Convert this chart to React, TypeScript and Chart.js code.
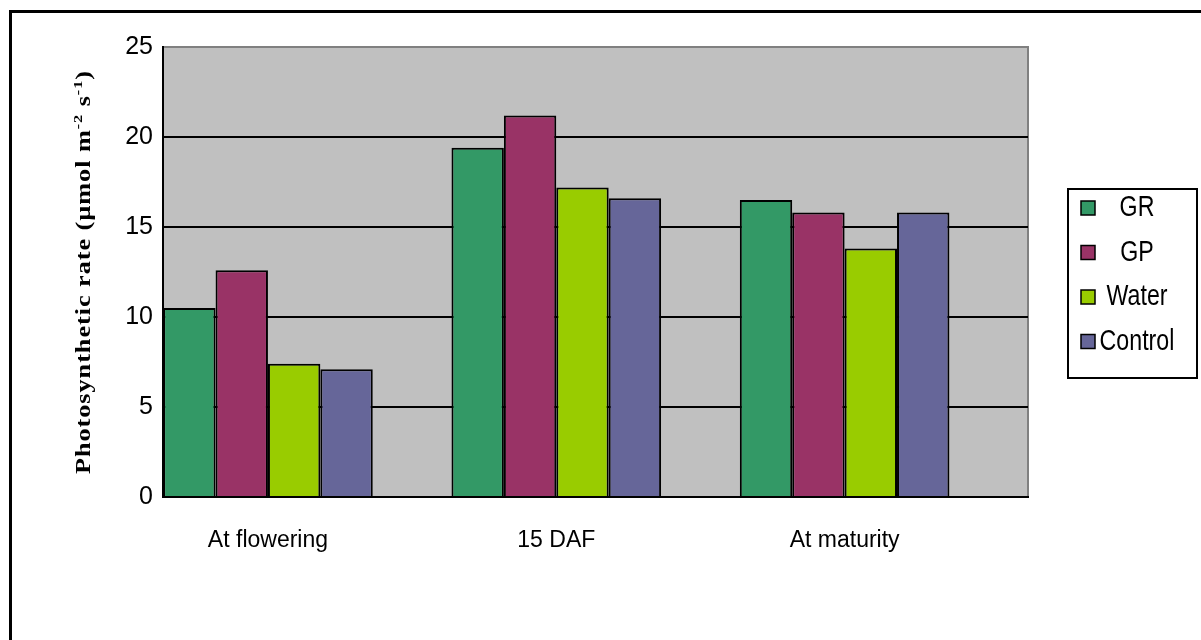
import React, { useEffect, useRef } from 'react';
import { Chart, registerables } from 'chart.js';

Chart.register(...registerables);

const categories = ['At flowering', '15 DAF', 'At maturity'];
const seriesNames = ['GR', 'GP', 'Water', 'Control'];
const grValues = [10.5, 19.4, 16.5];
const gpValues = [12.6, 21.2, 15.8];
const waterValues = [7.4, 17.2, 13.8];
const controlValues = [7.1, 16.6, 15.8];
const yTicks = [0, 5, 10, 15, 20, 25];
const seriesColors = ['#339966', '#993366', '#99CC00', '#666699'];

const SANS = '"Liberation Sans", Arial, sans-serif';
const SERIF = '"Liberation Serif", "Times New Roman", serif';

const framePlugin = {
  id: 'frameAndBg',
  beforeDraw(chart: any) {
    const { ctx, chartArea } = chart;
    ctx.save();
    ctx.fillStyle = '#ffffff';
    ctx.fillRect(0, 0, chart.width, chart.height);
    ctx.strokeStyle = '#000';
    ctx.lineWidth = 3;
    ctx.beginPath();
    ctx.moveTo(10.5, chart.height + 5);
    ctx.lineTo(10.5, 11.5);
    ctx.lineTo(chart.width + 5, 11.5);
    ctx.stroke();
    ctx.fillStyle = '#C0C0C0';
    ctx.fillRect(chartArea.left, chartArea.top, chartArea.right - chartArea.left, chartArea.bottom - chartArea.top);
    ctx.strokeStyle = '#808080';
    ctx.lineWidth = 2;
    ctx.beginPath();
    ctx.moveTo(chartArea.left, chartArea.top);
    ctx.lineTo(chartArea.right, chartArea.top);
    ctx.lineTo(chartArea.right, chartArea.bottom);
    ctx.stroke();
    ctx.restore();
  },
};

const yTitlePlugin = {
  id: 'yTitle',
  afterDraw(chart: any) {
    const { ctx, chartArea } = chart;
    const parts: { t: string; sup: boolean }[] = [
      { t: 'Photosynthetic rate (\u00B5mol m', sup: false },
      { t: '-2', sup: true },
      { t: ' s', sup: false },
      { t: '-1', sup: true },
      { t: ')', sup: false },
    ];
    const mainFont = `bold 21px ${SERIF}`;
    const supFont = `bold 13px ${SERIF}`;
    const stretch = 1.25;
    ctx.save();
    let w = 0;
    let n = 0;
    parts.forEach((p) => {
      ctx.font = p.sup ? supFont : mainFont;
      w += ctx.measureText(p.t).width * stretch;
      n += p.t.length;
    });
    const target = 404;
    const spacing = Math.max(0, (target - w) / n);
    const total = w + spacing * n;
    const cy = (chartArea.top + chartArea.bottom) / 2;
    ctx.translate(90, cy);
    ctx.rotate(-Math.PI / 2);
    ctx.fillStyle = '#000';
    ctx.textBaseline = 'alphabetic';
    ctx.textAlign = 'left';
    let x = -total / 2;
    parts.forEach((p) => {
      ctx.font = p.sup ? supFont : mainFont;
      for (const ch of p.t) {
        ctx.save();
        ctx.translate(x, p.sup ? -8 : 0);
        ctx.scale(stretch, 1);
        ctx.fillText(ch, 0, 0);
        ctx.restore();
        x += ctx.measureText(ch).width * stretch + spacing;
      }
    });
    ctx.restore();
  },
};

const legendPlugin = {
  id: 'boxLegend',
  afterDraw(chart: any) {
    const { ctx } = chart;
    ctx.save();
    ctx.strokeStyle = '#000';
    ctx.lineWidth = 2;
    ctx.strokeRect(1068, 189, 129, 189);
    chart.data.datasets.forEach((ds: any, i: number) => {
      const cy = 208 + i * 44.5;
      ctx.fillStyle = ds.backgroundColor;
      ctx.fillRect(1081, cy - 7, 14, 14);
      ctx.lineWidth = 1.5;
      ctx.strokeStyle = '#000';
      ctx.strokeRect(1081, cy - 7, 14, 14);
      ctx.fillStyle = '#000';
      ctx.font = `29px ${SANS}`;
      ctx.textAlign = 'center';
      ctx.textBaseline = 'middle';
      ctx.save();
      ctx.translate(1137, cy);
      ctx.scale(0.8, 1);
      ctx.fillText(ds.label, 0, 0);
      ctx.restore();
    });
    ctx.restore();
  },
};

export default function App() {
  const canvasRef = useRef<HTMLCanvasElement | null>(null);

  useEffect(() => {
    if (!canvasRef.current) return;
    const allValues = [grValues, gpValues, waterValues, controlValues];
    const chart = new Chart(canvasRef.current, {
      type: 'bar',
      data: {
        datasets: seriesNames.map((name, s) => ({
          label: name,
          data: categories.map((_, i) => ({ x: i, y: allValues[s][i] })),
          backgroundColor: seriesColors[s],
          borderColor: '#000',
          borderWidth: 2,
          categoryPercentage: 0.727,
          barPercentage: 1,
        })),
      },
      options: {
        animation: false,
        responsive: true,
        maintainAspectRatio: false,
        layout: { padding: { left: 0, top: 47, right: 173, bottom: 0 } },
        plugins: {
          legend: { display: false },
          tooltip: { enabled: false },
          title: { display: false },
        },
        scales: {
          x: {
            type: 'linear',
            offset: false,
            min: -0.364,
            max: 2.636,
            afterBuildTicks: (s: any) => {
              s.ticks = categories.map((_, i) => ({ value: i }));
            },
            afterFit: (s: any) => {
              s.height = 143;
            },
            ticks: {
              color: '#000',
              padding: 30,
              autoSkip: false,
              maxRotation: 0,
              font: { family: SANS, size: 23 },
              callback: (_v: any, index: number) => categories[index],
            },
            grid: { display: false, drawTicks: false },
            border: { display: true, color: '#000', width: 2 },
          },
          y: {
            min: 0,
            max: 25,
            afterBuildTicks: (s: any) => {
              s.ticks = yTicks.map((v) => ({ value: v }));
            },
            afterFit: (s: any) => {
              s.width = 163;
            },
            ticks: {
              color: '#000',
              padding: 10,
              font: { family: SANS, size: 25 },
            },
            grid: {
              color: (c: any) => (c.tick && c.tick.value === 25 ? '#808080' : '#000'),
              lineWidth: 2,
              drawTicks: false,
            },
            border: { display: true, color: '#000', width: 2 },
          },
        },
      },
      plugins: [framePlugin, yTitlePlugin, legendPlugin],
    });
    return () => chart.destroy();
  }, []);

  return (
    <div style={{ position: 'fixed', left: 0, top: 0, width: 1201, height: 640, background: '#fff' }}>
      <canvas ref={canvasRef} />
    </div>
  );
}
